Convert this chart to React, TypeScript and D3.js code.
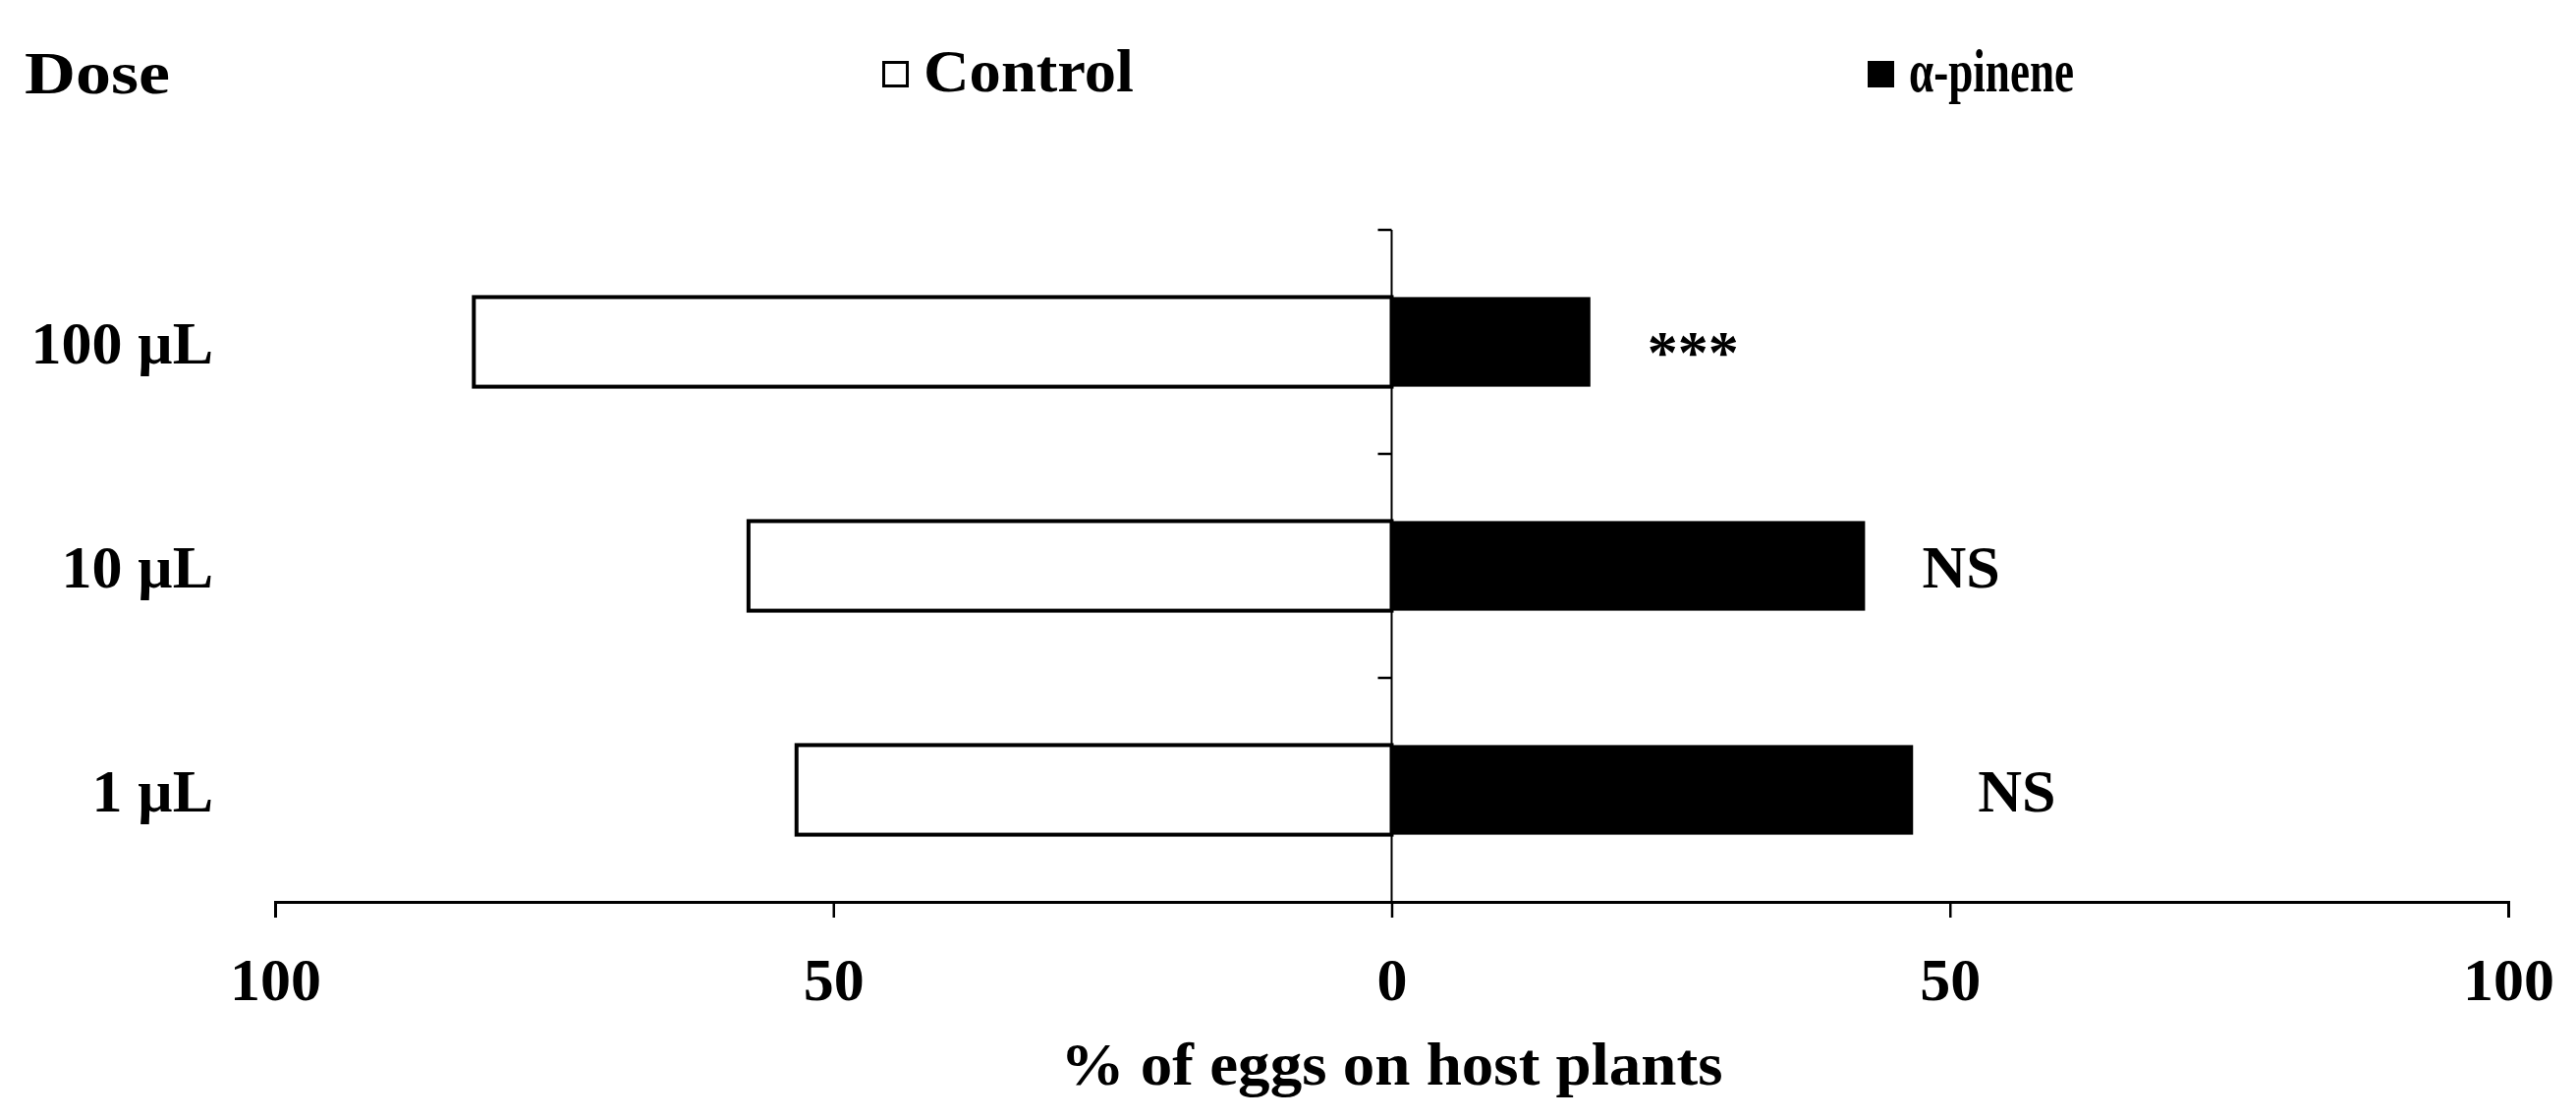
import React, { useEffect, useRef } from 'react';
import * as d3 from 'd3';

const doses = ['100 µL', '10 µL', '1 µL'];
const controlValues = [82.2, 57.6, 53.3];
const pineneValues = [17.8, 42.4, 46.7];
const significance = ['***', 'NS', 'NS'];
const xTicks = [-100, -50, 0, 50, 100];
const legendItems = [
  { label: 'Control', fill: '#ffffff' },
  { label: 'α-pinene', fill: '#000000' },
];

const FONT = '"Liberation Serif", "Times New Roman", serif';
const FONT_SIZE = '62px';

const App: React.FC = () => {
  const svgRef = useRef<SVGSVGElement>(null);

  useEffect(() => {
    document.body.style.margin = '0';
    if (!svgRef.current) return;

    const svg = d3.select(svgRef.current);
    svg.selectAll('*').remove();

    const width = 2622;
    const height = 1139;

    svg.append('rect').attr('width', width).attr('height', height).attr('fill', '#ffffff');

    // Scales
    const xScale = d3.scaleLinear().domain([-100, 100]).range([280, 2553]);
    const yScale = d3
      .scaleBand<string>()
      .domain(doses)
      .range([234, 918])
      .paddingInner(0.6)
      .paddingOuter(0.3);

    const g = svg.append('g');

    // Control bars (left, white)
    g.selectAll('.bar-control')
      .data(doses)
      .enter()
      .append('rect')
      .attr('class', 'bar-control')
      .attr('x', (_, i) => xScale(-controlValues[i]))
      .attr('y', d => yScale(d)!)
      .attr('width', (_, i) => xScale(0) - xScale(-controlValues[i]))
      .attr('height', yScale.bandwidth())
      .attr('fill', '#ffffff')
      .attr('stroke', '#000000')
      .attr('stroke-width', 4);

    // alpha-pinene bars (right, black)
    g.selectAll('.bar-pinene')
      .data(doses)
      .enter()
      .append('rect')
      .attr('class', 'bar-pinene')
      .attr('x', xScale(0))
      .attr('y', d => yScale(d)!)
      .attr('width', (_, i) => xScale(pineneValues[i]) - xScale(0))
      .attr('height', yScale.bandwidth())
      .attr('fill', '#000000');

    // Vertical zero axis with category boundary ticks
    const step = yScale.step();
    const yTop = 234;
    g.append('line')
      .attr('x1', xScale(0))
      .attr('x2', xScale(0))
      .attr('y1', yTop)
      .attr('y2', 918)
      .attr('stroke', '#000000')
      .attr('stroke-width', 2);

    d3.range(doses.length).forEach(i => {
      g.append('line')
        .attr('x1', xScale(0) - 14)
        .attr('x2', xScale(0))
        .attr('y1', yTop + i * step)
        .attr('y2', yTop + i * step)
        .attr('stroke', '#000000')
        .attr('stroke-width', 2.5);
    });

    // Bottom axis
    const xAxis = g
      .append('g')
      .attr('transform', 'translate(0,918)')
      .call(
        d3
          .axisBottom(xScale)
          .tickValues(xTicks)
          .tickSize(16)
          .tickPadding(40)
          .tickFormat(d => String(Math.abs(d as number)))
      );
    xAxis.select('.domain').attr('stroke', '#000000').attr('stroke-width', 3);
    xAxis.selectAll('.tick line').attr('stroke', '#000000').attr('stroke-width', 2.5);
    xAxis
      .selectAll('.tick text')
      .attr('fill', '#000000')
      .style('font-family', FONT)
      .style('font-weight', 'bold')
      .style('font-size', FONT_SIZE);

    // Category labels
    g.selectAll('.dose-label')
      .data(doses)
      .enter()
      .append('text')
      .attr('class', 'dose-label')
      .attr('x', 217)
      .attr('y', d => yScale(d)! + yScale.bandwidth() / 2)
      .attr('dy', '0.35em')
      .attr('text-anchor', 'end')
      .style('font-family', FONT)
      .style('font-weight', 'bold')
      .style('font-size', FONT_SIZE)
      .text(d => d);

    // Significance labels
    g.selectAll('.sig-label')
      .data(doses)
      .enter()
      .append('text')
      .attr('class', 'sig-label')
      .attr('x', (_, i) => xScale(pineneValues[i]) + 58 + (i === 2 ? 8 : 0))
      .attr('y', d => yScale(d)! + yScale.bandwidth() / 2)
      .attr('dy', (_, i) => (i === 0 ? '0.5em' : '0.35em'))
      .style('font-family', FONT)
      .style('font-weight', 'bold')
      .style('font-size', FONT_SIZE)
      .text((_, i) => significance[i]);

    // Axis title
    g.append('text')
      .attr('x', xScale(0) - 337)
      .attr('y', 1104)
      .attr('textLength', 674)
      .attr('lengthAdjust', 'spacingAndGlyphs')
      .style('font-family', FONT)
      .style('font-weight', 'bold')
      .style('font-size', FONT_SIZE)
      .text('% of eggs on host plants');

    // Dose header
    g.append('text')
      .attr('x', 25)
      .attr('y', 95)
      .attr('textLength', 148)
      .attr('lengthAdjust', 'spacingAndGlyphs')
      .style('font-family', FONT)
      .style('font-weight', 'bold')
      .style('font-size', FONT_SIZE)
      .text('Dose');

    // Legend
    const legendX = [898, 1901];
    const legendTextLength = [214, 168];
    legendItems.forEach((item, i) => {
      const lg = g.append('g').attr('transform', `translate(${legendX[i]}, 62)`);
      lg.append('rect')
        .attr('x', 1.5)
        .attr('y', 1.5)
        .attr('width', 24)
        .attr('height', 24)
        .attr('fill', item.fill)
        .attr('stroke', '#000000')
        .attr('stroke-width', 3);
      lg.append('text')
        .attr('x', 42)
        .attr('y', 31)
        .attr('textLength', legendTextLength[i])
        .attr('lengthAdjust', 'spacingAndGlyphs')
        .style('font-family', FONT)
        .style('font-weight', 'bold')
        .style('font-size', FONT_SIZE)
        .text(item.label);
    });
  }, []);

  return <svg ref={svgRef} width={2622} height={1139} style={{ display: 'block' }} />;
};

export default App;
